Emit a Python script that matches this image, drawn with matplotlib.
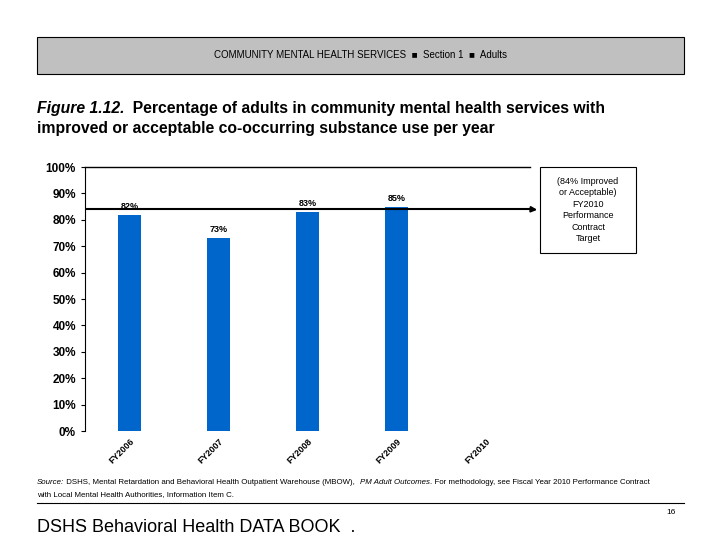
import matplotlib.pyplot as plt
from matplotlib.patches import Rectangle

plt.rcParams['font.family'] = ['Liberation Sans', 'DejaVu Sans']

years = ["FY2006", "FY2007", "FY2008", "FY2009", "FY2010"]
values = [82, 73, 83, 85, None]
labels = ["82%", "73%", "83%", "85%", ""]
target = 84
yticks = [0, 10, 20, 30, 40, 50, 60, 70, 80, 90, 100]

fig = plt.figure(figsize=(7.2, 5.4), dpi=100)
ax = fig.add_axes([85/720, 1-431/540, 445/720, 264/540])

# header band
fig.patches.append(Rectangle((37/720, 1-74/540), 647/720, 37/540, transform=fig.transFigure,
                             facecolor="#c0c0c0", edgecolor="black", linewidth=0.8))
fig.text(0.5, 1-55/540, "COMMUNITY MENTAL HEALTH SERVICES  \u25a0  Section 1  \u25a0  Adults",
         ha="center", va="center", fontsize=7)

# title
tfs = 11.3
t1 = fig.text(37/720, 1-113/540, "Figure 1.12.", fontsize=tfs, fontweight="bold", style="italic",
              va="baseline")
ax.annotate("  Percentage of adults in community mental health services with",
            xy=(1, 0), xycoords=t1, va="bottom", fontsize=tfs,
            fontweight="bold", annotation_clip=False)
fig.text(37/720, 1-133/540, "improved or acceptable co-occurring substance use per year",
         fontsize=tfs, fontweight="bold", va="baseline")

xs = list(range(len(years)))
for i, v in enumerate(values):
    if v is None:
        continue
    ax.bar(i, v, width=0.25, color="#0066cc")
    ax.text(i, v + 1.5, labels[i], ha="center", va="bottom", fontsize=6.5, fontweight="bold")

ax.axhline(target, color="black", linewidth=1.5)
ax.set_xlim(-0.5, 4.5)
ax.set_ylim(0, 100)
ax.set_yticks(yticks)
ax.set_yticklabels([f"{t}%" for t in yticks], fontsize=8.5, fontweight="bold")
ax.set_xticks(xs)
ax.set_xticklabels(years, rotation=45, ha="right", rotation_mode="anchor", fontsize=6.5,
                   fontweight="bold")
ax.tick_params(axis="x", length=0, pad=4)
ax.tick_params(axis="y", length=3, width=0.8)
ax.spines["right"].set_visible(False)
ax.spines["bottom"].set_visible(False)
ax.spines["top"].set_linewidth(1)

# target box with arrow
ax.annotate("", xy=(540/720, 1-210/540), xycoords="figure fraction",
            xytext=(4.5, target), textcoords="data",
            arrowprops=dict(arrowstyle="-|>", color="black", lw=1.5, mutation_scale=8))
fig.patches.append(Rectangle((540/720, 1-253/540), 96/720, 86/540, transform=fig.transFigure,
                             facecolor="white", edgecolor="black", linewidth=0.8))
fig.text(588/720, 1-210/540,
         "(84% Improved\nor Acceptable)\nFY2010\nPerformance\nContract\nTarget",
         ha="center", va="center", fontsize=6.5, linespacing=1.35)

# footer, source line pieces chained one after another
fs = 5.7
s1 = fig.text(37/720, 1-484/540, "Source:", fontsize=fs, style="italic", va="baseline")
s2 = ax.annotate(" DSHS, Mental Retardation and Behavioral Health Outpatient Warehouse (MBOW),  ",
                 xy=(1, 0), xycoords=s1, va="bottom", fontsize=fs, annotation_clip=False)
s3 = ax.annotate("PM Adult Outcomes", xy=(1, 0), xycoords=s2, va="bottom", fontsize=fs,
                 style="italic", annotation_clip=False)
ax.annotate(". For methodology, see Fiscal Year 2010 Performance Contract",
            xy=(1, 0), xycoords=s3, va="bottom", fontsize=fs, annotation_clip=False)
fig.text(37/720, 1-496/540,
         "with Local Mental Health Authorities, Information Item C.",
         fontsize=fs, va="baseline")
fig.add_artist(plt.Line2D([37/720, 684/720], [1-503/540, 1-503/540], color="black",
                          linewidth=0.8, transform=fig.transFigure))
fig.text(676/720, 1-513/540, "16", fontsize=6, ha="right", va="center")
fig.text(37/720, 1-527/540, "DSHS Behavioral Health DATA BOOK  .", fontsize=13, va="center")

fig.savefig("out.png", dpi=100)
